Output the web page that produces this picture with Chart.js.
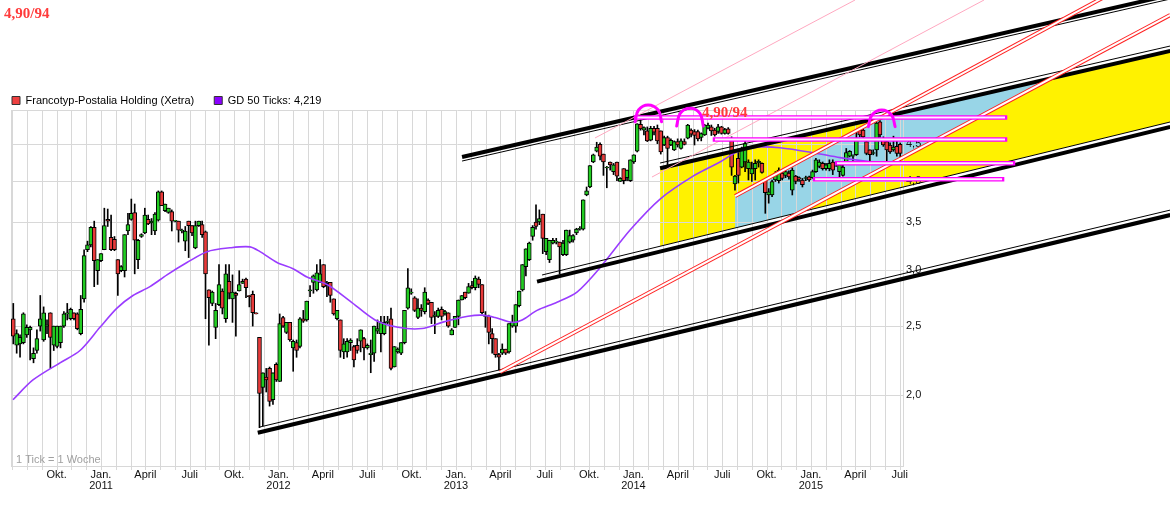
<!DOCTYPE html>
<html><head><meta charset="utf-8">
<script src="https://cdn.jsdelivr.net/npm/chart.js@4.4.1/dist/chart.umd.min.js"></script>
<style>html,body{margin:0;padding:0;background:#fff;}canvas{display:block;}</style>
</head><body>
<canvas id="c" width="1170" height="505"></canvas>
<script>
// x unit: months since Jan 2011; one candle per week
const firstWeek = -5.93;
const weekLen = 0.228;
const openP = [2.56,2.35,2.36,2.37,2.43,2.47,2.25,2.31,2.50,2.39,2.50,2.61,2.35,2.34,2.37,2.50,2.60,2.56,2.61,2.60,
2.44,2.73,3.20,3.25,3.44,2.99,3.09,3.20,3.53,3.33,3.31,3.10,2.99,2.99,3.40,3.53,3.61,3.10,3.34,3.38,
3.53,3.49,3.40,3.52,3.86,3.63,3.61,3.62,3.51,3.51,3.40,3.29,3.51,3.46,3.22,3.46,3.47,3.39,2.81,2.69,
2.49,2.68,2.80,2.56,2.89,2.73,2.78,2.80,2.87,2.91,2.76,2.77,2.61,2.41,2.05,2.12,2.18,1.97,2.21,2.09,
2.57,2.45,2.53,2.33,2.37,2.34,2.56,2.55,2.80,2.88,2.81,2.88,3.05,2.87,2.88,2.73,2.56,2.55,2.30,2.30,
2.37,2.34,2.35,2.38,2.40,2.33,2.28,2.29,2.46,2.44,2.44,2.53,2.56,2.19,2.30,2.29,2.37,2.65,2.78,2.74,
2.57,2.65,2.62,2.72,2.70,2.58,2.58,2.64,2.60,2.61,2.43,2.49,2.58,2.72,2.79,2.78,2.85,2.83,2.91,2.86,
2.59,2.58,2.44,2.40,2.28,2.29,2.32,2.30,2.50,2.50,2.67,2.81,3.03,3.10,3.34,3.50,3.50,3.59,3.18,3.10,
3.27,3.28,3.28,3.15,3.15,3.28,3.30,3.38,3.42,3.42,3.82,3.92,4.25,4.40,4.50,4.36,4.17,4.25,4.12,4.25,
3.99,4.16,4.04,4.00,4.25,4.40,4.80,4.71,4.70,4.56,4.74,4.74,4.70,4.49,4.60,4.49,4.42,4.54,4.44,4.54,
4.59,4.71,4.69,4.69,4.60,4.64,4.74,4.76,4.71,4.69,4.76,4.66,4.73,4.59,3.96,4.30,4.18,4.25,4.16,4.09,
4.16,4.24,4.23,4.01,3.82,3.82,4.01,4.00,4.10,4.07,4.10,3.88,4.06,4.04,4.01,4.03,4.05,4.04,4.12,4.19,
4.23,4.16,4.16,4.25,4.23,4.12,4.07,4.25,4.33,4.33,4.35,4.71,4.71,4.54,4.42,4.37,4.42,4.84,4.59,4.54,
4.49,4.42,4.47,4.50];
const highP = [2.69,2.47,2.43,2.61,2.51,2.50,2.33,2.47,2.76,2.66,2.55,2.61,2.50,2.50,2.50,2.62,2.69,2.65,2.61,2.61,
2.76,3.20,3.29,3.45,3.51,3.10,3.16,3.66,3.65,3.58,3.34,3.10,3.04,3.36,3.60,3.77,3.71,3.31,3.37,3.66,
3.58,3.54,3.61,3.87,3.87,3.71,3.66,3.64,3.52,3.51,3.42,3.45,3.51,3.46,3.51,3.51,3.51,3.40,2.81,2.80,
2.69,3.05,2.82,3.05,3.05,2.95,2.79,2.99,2.91,2.92,2.76,2.80,2.61,2.41,2.15,2.18,2.19,2.15,2.22,2.60,
2.58,2.53,2.53,2.39,2.39,2.57,2.63,2.71,2.85,2.95,3.05,3.10,3.05,2.89,2.88,2.73,2.63,2.55,2.40,2.40,
2.40,2.35,2.40,2.47,2.41,2.36,2.39,2.50,2.55,2.58,2.58,2.58,2.65,2.34,2.33,2.37,2.63,3.01,2.82,2.75,
2.73,2.68,2.83,2.73,2.70,2.62,2.65,2.66,2.63,2.61,2.48,2.58,2.72,2.76,2.79,2.87,2.89,2.94,2.93,2.86,
2.62,2.59,2.48,2.40,2.29,2.36,2.32,2.52,2.59,2.68,2.80,3.05,3.21,3.28,3.46,3.70,3.64,3.59,3.32,3.30,
3.32,3.32,3.28,3.30,3.41,3.41,3.36,3.43,3.45,3.76,3.92,4.20,4.36,4.53,4.52,4.36,4.19,4.25,4.23,4.25,
4.04,4.16,4.14,4.28,4.35,4.81,4.87,4.76,4.76,4.77,4.77,4.79,4.70,4.62,4.62,4.58,4.55,4.58,4.58,4.58,
4.80,4.73,4.72,4.71,4.67,4.80,4.82,4.79,4.74,4.80,4.77,4.74,4.75,4.61,4.07,4.43,4.46,4.54,4.28,4.25,
4.28,4.28,4.24,4.01,3.90,4.01,4.12,4.17,4.14,4.14,4.13,4.17,4.07,4.05,4.03,4.06,4.06,4.14,4.30,4.28,
4.25,4.23,4.28,4.28,4.24,4.23,4.21,4.44,4.41,4.35,4.69,4.74,4.74,4.56,4.42,4.42,4.83,4.86,4.61,4.58,
4.52,4.62,4.56,4.52];
const lowP = [2.36,2.29,2.26,2.36,2.41,2.24,2.22,2.29,2.46,2.38,2.44,2.18,2.31,2.33,2.33,2.49,2.55,2.55,2.55,2.47,
2.43,2.70,3.18,3.23,2.84,2.86,3.08,3.20,3.45,3.19,3.19,2.76,2.98,2.93,3.36,3.52,2.96,3.01,3.33,3.37,
3.47,3.36,3.36,3.51,3.69,3.62,3.60,3.40,3.50,3.28,3.38,3.19,3.12,3.35,3.21,3.45,3.33,2.56,2.35,2.67,
2.40,2.67,2.60,2.53,2.73,2.53,2.42,2.80,2.87,2.74,2.66,2.50,2.60,1.80,1.81,2.02,1.93,1.94,2.09,2.09,
2.49,2.44,2.38,2.16,2.26,2.33,2.53,2.54,2.75,2.78,2.80,2.88,2.83,2.75,2.70,2.59,2.55,2.26,2.25,2.26,
2.31,2.19,2.29,2.30,2.24,2.32,2.15,2.23,2.44,2.30,2.43,2.52,2.17,2.19,2.29,2.28,2.36,2.64,2.77,2.62,
2.56,2.58,2.60,2.68,2.52,2.44,2.57,2.55,2.59,2.49,2.43,2.49,2.51,2.72,2.73,2.78,2.82,2.81,2.83,2.60,
2.49,2.36,2.29,2.26,2.17,2.28,2.28,2.29,2.49,2.45,2.66,2.80,2.94,3.09,3.30,3.42,3.47,3.16,3.15,3.07,
3.26,3.26,2.96,3.14,3.14,3.27,3.28,3.36,3.41,3.41,3.81,3.91,4.24,4.39,4.28,4.07,3.91,4.14,4.08,4.00,
3.99,3.96,4.00,3.99,4.23,4.39,4.71,4.64,4.54,4.55,4.64,4.51,4.36,4.48,4.18,4.48,4.41,4.46,4.43,4.49,
4.58,4.61,4.49,4.55,4.55,4.63,4.73,4.63,4.62,4.66,4.65,4.65,4.65,4.07,3.88,3.97,4.17,4.12,4.01,3.99,
4.01,4.18,4.10,3.60,3.72,3.80,3.99,3.97,4.01,4.04,4.02,3.82,3.96,3.99,3.92,4.00,3.99,4.03,4.11,4.17,
4.14,4.14,4.13,4.08,4.19,4.05,4.06,4.23,4.32,4.23,4.34,4.61,4.60,4.35,4.25,4.35,4.33,4.60,4.47,4.25,
4.37,4.40,4.33,4.26];
const closeP = [2.42,2.44,2.41,2.60,2.49,2.49,2.29,2.40,2.56,2.61,2.51,2.41,2.50,2.50,2.50,2.60,2.61,2.64,2.56,2.48,
2.64,3.14,3.25,3.44,3.09,3.10,3.16,3.46,3.51,3.20,3.20,2.96,3.03,3.36,3.47,3.60,3.30,3.30,3.36,3.58,
3.48,3.51,3.59,3.86,3.69,3.71,3.66,3.51,3.52,3.41,3.41,3.40,3.46,3.38,3.46,3.51,3.36,2.96,2.74,2.79,
2.63,2.86,2.65,2.96,2.78,2.79,2.76,2.86,2.89,2.83,2.75,2.61,2.60,2.01,2.15,2.10,1.96,2.15,2.10,2.52,
2.50,2.53,2.39,2.38,2.31,2.56,2.54,2.71,2.81,2.94,2.97,2.96,2.84,2.85,2.76,2.60,2.63,2.31,2.36,2.38,
2.39,2.24,2.31,2.47,2.33,2.35,2.29,2.50,2.48,2.53,2.53,2.54,2.18,2.34,2.32,2.37,2.63,2.83,2.79,2.63,
2.65,2.63,2.79,2.69,2.57,2.59,2.63,2.58,2.62,2.50,2.47,2.58,2.72,2.76,2.74,2.84,2.83,2.92,2.86,2.61,
2.58,2.45,2.40,2.28,2.26,2.32,2.29,2.52,2.53,2.68,2.80,3.05,3.21,3.27,3.44,3.45,3.54,3.32,3.32,3.30,
3.30,3.29,3.23,3.27,3.41,3.35,3.35,3.42,3.43,3.76,3.87,4.20,4.35,4.46,4.33,4.25,4.18,4.21,4.21,4.06,
4.03,4.00,4.14,4.28,4.35,4.81,4.73,4.75,4.55,4.74,4.68,4.55,4.39,4.60,4.44,4.56,4.54,4.49,4.55,4.50,
4.79,4.65,4.63,4.58,4.66,4.79,4.79,4.70,4.64,4.76,4.66,4.72,4.66,4.18,4.06,4.07,4.43,4.51,4.25,4.16,
4.23,4.26,4.11,3.85,3.86,3.99,4.10,4.14,4.03,4.12,4.05,4.14,3.99,4.02,3.95,4.04,4.01,4.12,4.28,4.25,
4.16,4.21,4.23,4.14,4.21,4.21,4.18,4.38,4.40,4.34,4.59,4.64,4.61,4.37,4.35,4.38,4.82,4.64,4.49,4.42,
4.39,4.46,4.37,4.37];

// GD 50 (moving average): months, value
const maMonths = [-5.95,-4.60,-2.77,-1.42,-0.07,1.08,2.16,3.31,4.46,5.81,7.17,8.72,10.07,10.75,11.90,12.98,13.93,15.28,16.84,18.53,20.08,21.70,23.06,24.81,25.76,26.64,27.79,28.47,29.48,30.83,32.18,33.74,35.77,37.80,40.03,41.85,43.00,44.56,45.91,48.14,49.97,51.79,54.02];
const maValues = [1.97,2.10,2.22,2.31,2.49,2.65,2.76,2.84,2.95,3.07,3.18,3.22,3.23,3.18,3.07,3.01,2.93,2.86,2.71,2.55,2.49,2.48,2.53,2.58,2.59,2.57,2.53,2.55,2.63,2.70,2.79,3.02,3.41,3.77,4.06,4.25,4.39,4.46,4.45,4.38,4.31,4.26,4.22];

// drawn trend lines: [month, price] end points
const thickLines = [[[10.60,1.771],[72.29,3.580]],[[29.48,2.886],[72.29,4.759]],[[37.80,4.164],[72.29,6.085]],[[24.41,4.319],[72.29,7.293]]];
const thinLines  = [[[10.75,1.804],[72.29,3.638]],[[29.82,2.949],[72.29,4.837]],[[37.80,4.236],[72.29,6.184]],[[24.41,4.263],[72.29,7.199]]];
const redLines   = [[[26.98,2.155],[72.29,6.836]],[[42.87,3.807],[72.29,8.128]]];
const pinkLines  = [[[33.40,4.593],[50.98,7.176]],[[37.25,4.048],[59.70,7.176]]];
// horizontal level boxes: from month, to month, price
const levelBoxes = [[36.17,61.12,4.907],[41.51,61.12,4.570],[49.76,61.66,4.233],[48.28,60.92,4.018]];
// top marks
const arcs = [
  [[36.11,4.841],[36.34,5.028],[36.99,5.110],[37.67,5.028],[37.90,4.841]],
  [[38.92,4.774],[39.16,4.975],[39.82,5.056],[40.49,4.975],[40.72,4.774]],
  [[51.88,4.764],[52.12,4.947],[52.79,5.028],[53.45,4.947],[53.69,4.764]]
];
// shaded zones
const yellowZone = [[37.80,4.164],[72.29,6.085],[72.29,4.837],[37.80,3.239]];
const blueZone = [[42.87,3.807],[52.71,4.907],[64.22,5.569],[47.26,3.614],[42.87,3.433]];

const yTicks = [2.0,2.5,3.0,3.5,4.0,4.5];
const monthLabels = ['Jan.','','','April','','','Juli','','','Okt.','',''];
const firstYear = 2011;
const noteText = '4,90/94';
const noteAt = [40.64, 4.971];
const legendNames = ['Francotyp-Postalia Holding (Xetra)', 'GD 50 Ticks: 4,219'];

const UP = '#22cc22', DOWN = '#e83a3a';

Chart.defaults.font.family = "'Liberation Sans', Arial, sans-serif";
Chart.defaults.font.size = 11;
Chart.defaults.color = '#111';

const weeks = openP.map((_, i) => firstWeek + i * weekLen);
const seg = (pts, color, width, order, extra) => Object.assign({
  type: 'line', data: pts.map(([x, y]) => ({x, y})), borderColor: color, borderWidth: width,
  pointRadius: 0, pointHoverRadius: 0, fill: false, tension: 0, clip: false, order
}, extra || {});

const datasets = [];
datasets.push({type: 'bar', gridBefore: true, data: weeks.map((x, i) => ({x, y: [lowP[i], highP[i]]})),
  backgroundColor: '#000', borderWidth: 0, barThickness: 1, grouped: false, order: 20});
datasets.push({type: 'bar', data: weeks.map((x, i) => ({x, y: [openP[i], closeP[i]]})),
  backgroundColor: openP.map((o, i) => closeP[i] >= o ? UP : DOWN), borderColor: '#000', borderWidth: 1,
  borderSkipped: false, barThickness: 4, grouped: false, order: 19});
datasets.push(seg(maMonths.map((m, i) => [m, maValues[i]]), '#9a3cff', 1.6, 18, {tension: 0.3, clip: undefined}));
thinLines.forEach(l => datasets.push(seg(l, '#000', 1, 17)));
thickLines.forEach(l => datasets.push(seg(l, '#000', 4, 16)));
pinkLines.forEach(l => datasets.push(seg(l, '#ffa8c0', 1, 15)));
redLines.forEach(l => datasets.push(seg(l, '#ff2020', 4, 14)));
redLines.forEach(l => datasets.push(seg(l, '#ffffff', 2, 13)));
levelBoxes.forEach(([a, b, p]) => datasets.push(seg([[a, p], [b, p]], '#ff00ff', 4.5, 12, {borderCapStyle: 'square'})));
levelBoxes.forEach(([a, b, p]) => datasets.push(seg([[a, p], [b, p]], '#fff0ff', 2, 11)));
arcs.forEach(a => datasets.push(seg(a, '#ff00ff', 3, 10, {tension: 0.4, borderCapStyle: 'round'})));

const drawGrid = (chart) => {
  const {ctx, chartArea: a, scales: {x, y}} = chart;
  ctx.save();
  ctx.strokeStyle = '#d8d8d8';
  ctx.lineWidth = 1;
  ctx.beginPath();
  x.ticks.forEach(t => { const px = Math.round(x.getPixelForValue(t.value)) + 0.5; ctx.moveTo(px, a.top); ctx.lineTo(px, a.bottom + 3); });
  y.ticks.forEach(t => { const py = Math.round(y.getPixelForValue(t.value)) + 0.5; ctx.moveTo(a.left, py); ctx.lineTo(a.right, py); });
  ctx.moveTo(a.left, Math.round(a.top) + 0.5); ctx.lineTo(a.right, Math.round(a.top) + 0.5);
  ctx.moveTo(a.left, Math.round(a.bottom) - 0.5); ctx.lineTo(a.right, Math.round(a.bottom) - 0.5);
  ctx.moveTo(Math.round(a.left) + 0.5, a.top); ctx.lineTo(Math.round(a.left) + 0.5, a.bottom);
  ctx.moveTo(Math.round(a.right) - 0.5, a.top); ctx.lineTo(Math.round(a.right) - 0.5, a.bottom);
  ctx.stroke();
  ctx.restore();
};

const decor = {
  id: 'decor',
  afterLayout(chart) {
    if (chart.titleBlock) chart.titleBlock.left -= 7;
    if (chart.legend) { chart.legend.left -= 19; chart.legend.top += 6; }
  },
  beforeDraw(chart) {
    const {ctx, scales: {x, y}} = chart;
    const poly = (pts, color) => {
      ctx.beginPath();
      pts.forEach(([m, p], i) => { const px = x.getPixelForValue(m), py = y.getPixelForValue(p); i ? ctx.lineTo(px, py) : ctx.moveTo(px, py); });
      ctx.closePath(); ctx.fillStyle = color; ctx.fill();
    };
    ctx.save(); poly(yellowZone, '#fff200'); poly(blueZone, '#98d5e7'); ctx.restore();
  },
  beforeDatasetDraw(chart, args) {
    if (chart.data.datasets[args.index].gridBefore) drawGrid(chart);
  },
  afterDatasetsDraw(chart) {
    const {ctx, chartArea: a, scales: {x, y}} = chart;
    ctx.save();
    ctx.textAlign = 'left'; ctx.textBaseline = 'middle';
    ctx.font = "bold 15px 'Liberation Serif', serif"; ctx.fillStyle = '#ff3b3b';
    ctx.fillText(noteText, x.getPixelForValue(noteAt[0]), y.getPixelForValue(noteAt[1]));
    ctx.font = "11px 'Liberation Sans', Arial, sans-serif"; ctx.fillStyle = '#a0a0a0';
    ctx.fillText('1 Tick = 1 Woche', a.left + 5, a.bottom - 7);
    ctx.restore();
  }
};

new Chart(document.getElementById('c'), {
  type: 'bar',
  data: {datasets},
  plugins: [decor],
  options: {
    responsive: false, animation: false, devicePixelRatio: 1,
    layout: {padding: {left: 11, right: 0, top: 0, bottom: 0}},
    elements: {line: {capBezierPoints: false}},
    plugins: {
      tooltip: {enabled: false},
      title: {display: true, text: noteText, align: 'start', color: '#ff3b3b',
        font: {family: "'Liberation Serif', serif", size: 15, weight: 'bold', lineHeight: 1.2},
        padding: {top: 5, bottom: 46}},
      legend: {display: true, position: 'top', align: 'start',
        labels: {boxWidth: 8, boxHeight: 8, padding: 20, color: '#111', font: {size: 11},
          generateLabels: () => [
            {text: legendNames[0], fillStyle: '#ee4040', strokeStyle: '#333', lineWidth: 1, hidden: false, datasetIndex: 1},
            {text: legendNames[1], fillStyle: '#8a00ff', strokeStyle: '#333', lineWidth: 1, hidden: false, datasetIndex: 2}
          ]}}
    },
    scales: {
      x: {type: 'linear', min: -6.085, max: 54.29, offset: false, bounds: 'data',
        afterBuildTicks: s => { const t = []; for (let m = -6; m <= 54; m++) t.push({value: m}); s.ticks = t; },
        afterFit: s => { s.height = 38; },
        grid: {display: false, drawTicks: false}, border: {display: false},
        ticks: {autoSkip: false, maxRotation: 0, minRotation: 0, padding: 2, color: '#111', font: {size: 11, lineHeight: 1.0},
          callback: v => {
            if (v < -4) return '';
            const mi = ((v % 12) + 12) % 12;
            const yr = firstYear + Math.floor(v / 12);
            return mi === 0 ? [monthLabels[0], String(yr)] : monthLabels[mi];
          }}},
      y: {type: 'logarithmic', position: 'right', min: 1.585, max: 5.028, bounds: 'data',
        afterBuildTicks: s => { s.ticks = yTicks.map(v => ({value: v})); },
        afterFit: s => { s.width = 266; },
        grid: {display: false, drawTicks: false}, border: {display: false},
        ticks: {padding: 2, color: '#111', font: {size: 11}, callback: v => Number(v).toFixed(1).replace('.', ',')}}
    }
  }
});
</script>
</body></html>
